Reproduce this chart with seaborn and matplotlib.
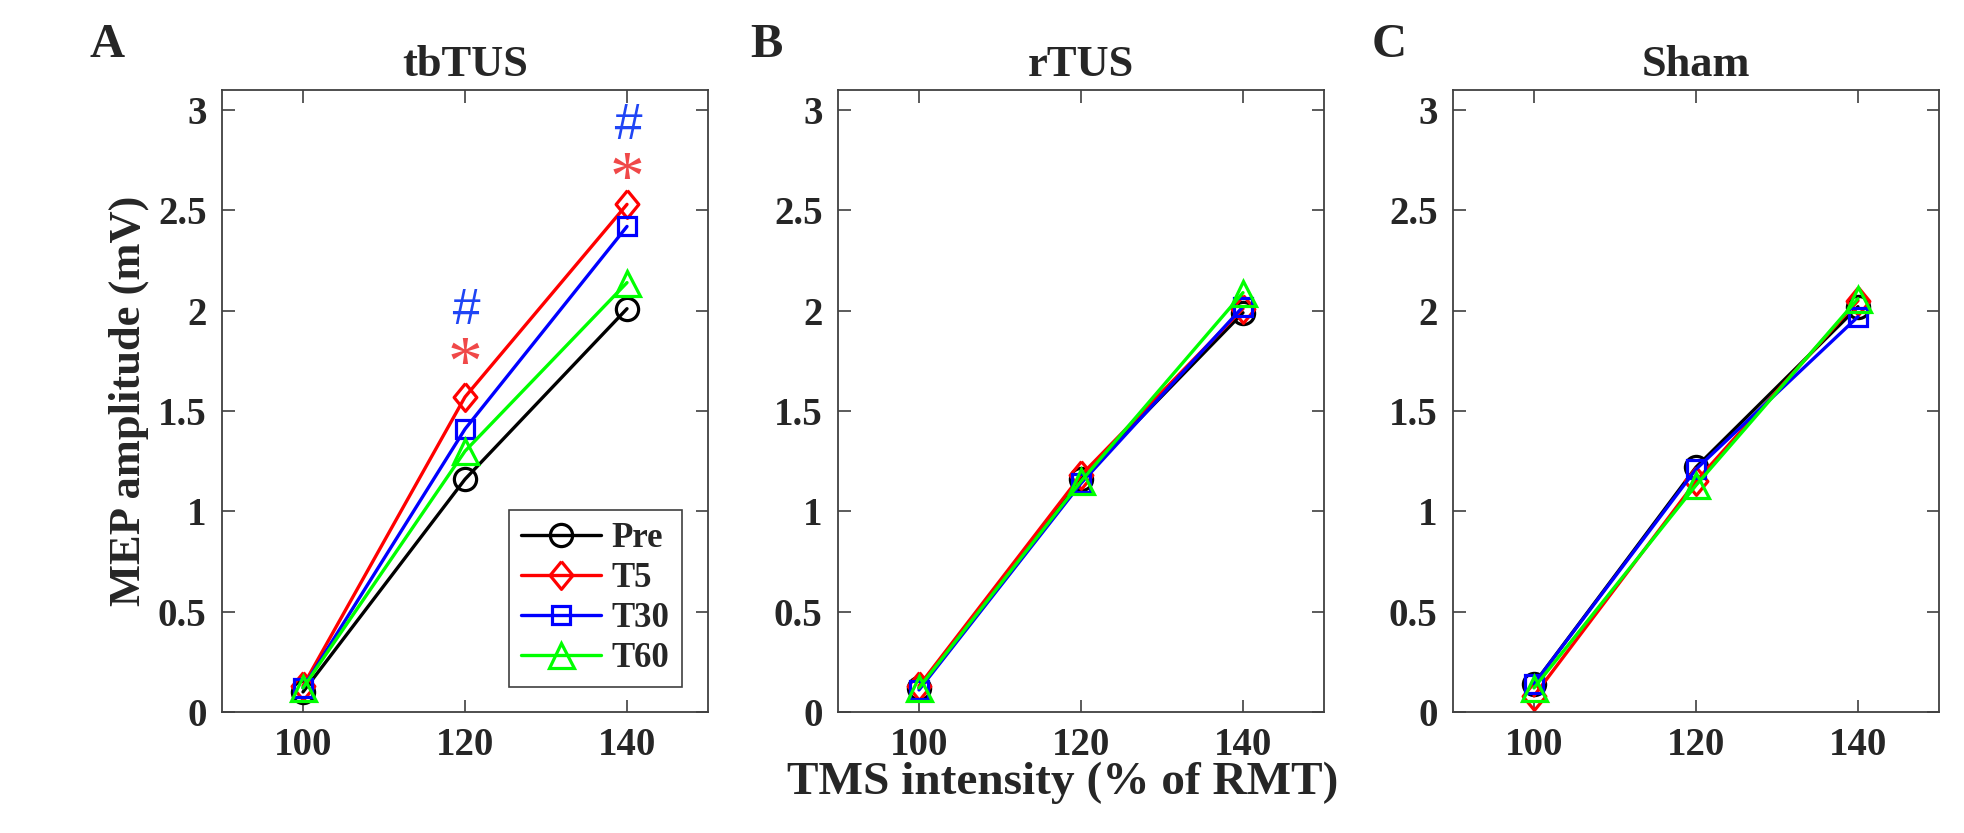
import matplotlib
matplotlib.use("Agg")
import matplotlib.pyplot as plt
import seaborn as sns
import pandas as pd
import numpy as np

# ---- data ----
intensity = [100, 120, 140]
series = ["Pre", "T5", "T30", "T60"]
panels = ["tbTUS", "rTUS", "Sham"]
letters = ["A", "B", "C"]

tbTUS_pre = [0.10, 1.16, 2.01]
tbTUS_t5 = [0.13, 1.57, 2.53]
tbTUS_t30 = [0.12, 1.41, 2.42]
tbTUS_t60 = [0.12, 1.30, 2.14]

rTUS_pre = [0.12, 1.16, 1.99]
rTUS_t5 = [0.13, 1.18, 2.01]
rTUS_t30 = [0.11, 1.14, 2.02]
rTUS_t60 = [0.12, 1.15, 2.09]

sham_pre = [0.14, 1.22, 2.02]
sham_t5 = [0.08, 1.15, 2.05]
sham_t30 = [0.14, 1.21, 1.97]
sham_t60 = [0.12, 1.13, 2.06]

# significance marks in panel A (x, y)
hash_x = [120, 140]
hash_y = [2.00, 2.92]
star_x = [120, 140]
star_y = [1.72, 2.64]

yticks = [0, 0.5, 1, 1.5, 2, 2.5, 3]
ytick_labels = ["0", "0.5", "1", "1.5", "2", "2.5", "3"]

values = {
    "tbTUS": [tbTUS_pre, tbTUS_t5, tbTUS_t30, tbTUS_t60],
    "rTUS": [rTUS_pre, rTUS_t5, rTUS_t30, rTUS_t60],
    "Sham": [sham_pre, sham_t5, sham_t30, sham_t60],
}

rows = []
for p in panels:
    for s, vals in zip(series, values[p]):
        for x, v in zip(intensity, vals):
            rows.append({"panel": p, "time": s, "intensity": x, "amp": v})
df = pd.DataFrame(rows)

# ---- style ----
sns.set_style("ticks")
plt.rcParams["font.family"] = ["Liberation Serif", "DejaVu Serif"]
plt.rcParams["font.weight"] = "bold"
plt.rcParams["axes.labelweight"] = "bold"
plt.rcParams["axes.titleweight"] = "bold"

colors = {"Pre": "#000000", "T5": "#FF0000", "T30": "#0000FF", "T60": "#00FF00"}
diamond = [(0, 1), (0.82, 0), (0, -1), (-0.82, 0), (0, 1)]
markers = {"Pre": "o", "T5": diamond, "T30": "s", "T60": "^"}
msizes = {"Pre": 16, "T5": 20, "T30": 12.5, "T60": 18}

W, H = 1965, 833
fig = plt.figure(figsize=(W / 100, H / 100), dpi=100)
lefts = [222, 838, 1453]
letter_x = [90, 750, 1372]
ax_w, ax_top, ax_bot = 486, 90, 712

axes = []
for i, p in enumerate(panels):
    ax = fig.add_axes([lefts[i] / W, (H - ax_bot) / H, ax_w / W, (ax_bot - ax_top) / H])
    axes.append(ax)
    sub = df[df["panel"] == p]
    for s in series:
        d = sub[sub["time"] == s]
        sns.lineplot(data=d, x="intensity", y="amp", ax=ax, color=colors[s],
                     marker=markers[s], markersize=msizes[s], markerfacecolor="none",
                     markeredgecolor=colors[s], markeredgewidth=2.3, linewidth=2.4,
                     label=s if i == 0 else None, legend=False)
    ax.set_xlim(90, 150)
    ax.set_ylim(0, 3.1)
    ax.set_xticks(intensity)
    ax.set_xticklabels([str(v) for v in intensity])
    ax.set_yticks(yticks)
    ax.set_yticklabels(ytick_labels)
    ax.tick_params(direction="in", top=True, right=True, length=9, width=1.2,
                   color="#404040", labelcolor="#262626", labelsize=28, pad=11)
    for sp in ax.spines.values():
        sp.set_visible(True)
        sp.set_color("#404040")
        sp.set_linewidth(1.3)
    ax.set_xlabel("")
    ax.set_ylabel("")
    ax.set_title(p, fontsize=32, fontweight="bold", pad=10)
    fig.text(letter_x[i] / W, 1 - 57 / H, letters[i], fontsize=35, fontweight="bold",
             ha="left", va="baseline")

axA = axes[0]
axA.set_ylabel("MEP amplitude (mV)", fontsize=32, fontweight="bold")
axA.yaxis.set_label_coords(-0.15, 0.5)
axes[1].set_xlabel("TMS intensity (% of RMT)", fontsize=34, fontweight="bold")
axes[1].xaxis.set_label_coords(0.463, -0.08)

for x, y in zip(hash_x, hash_y):
    axA.text(x, y, "#", color="#1F45F5", fontsize=36, ha="center", va="center",
             family=["Liberation Sans", "DejaVu Sans"], fontweight="normal", style="italic")
for x, y in zip(star_x, star_y):
    axA.text(x, y, "*", color="#F04848", fontsize=50, ha="center", va="center",
             family=["Liberation Serif"], fontweight="normal")

leg = axA.legend(loc="lower right", bbox_to_anchor=(0.946, 0.040), fontsize=25,
                 frameon=True, fancybox=False, edgecolor="#404040", framealpha=1,
                 handlelength=2.3, handletextpad=0.3, labelspacing=0.2,
                 borderpad=0.35, borderaxespad=0)
leg.get_frame().set_linewidth(1.2)
for t in leg.get_texts():
    t.set_fontweight("bold")

fig.savefig("out.png", dpi=100)
